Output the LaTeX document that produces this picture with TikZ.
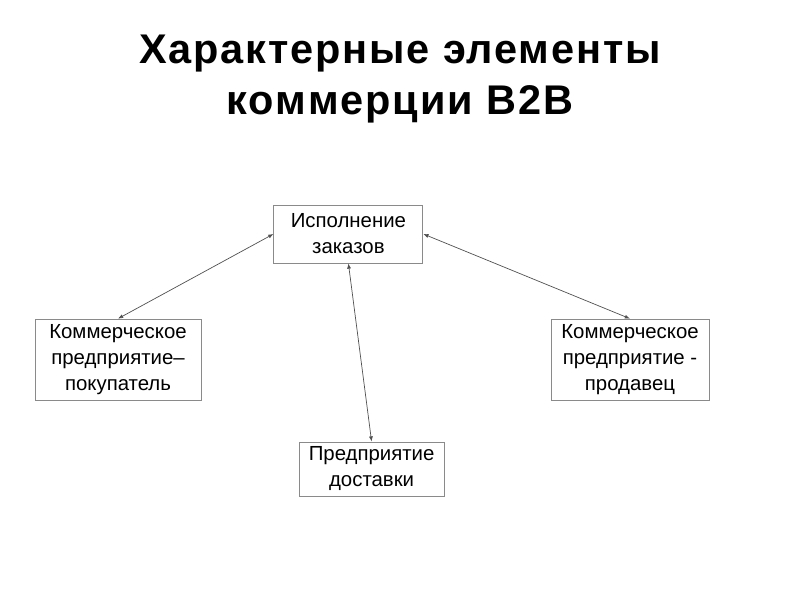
\documentclass[tikz,border=0pt]{standalone}
\usepackage{fontspec}
\setmainfont{Liberation Sans}
\newfontfamily\titlefont[LetterSpace=4.5]{Liberation Sans}
\usetikzlibrary{arrows.meta, positioning}
\definecolor{bframe}{HTML}{8A8A8A}
\definecolor{bline}{HTML}{505050}
\tikzset{
  >={Latex[length=1.3mm,width=1mm]},
  box/.style={
    draw=bframe, fill=white, line width=0.6pt, align=center, inner sep=3pt,
    font=\fontsize{14.5}{18.5}\selectfont
  },
  head/.style={anchor=base, font=\titlefont\fontsize{29.5}{36}\selectfont\bfseries},
  link/.style={<->, line width=0.5pt, draw=bline}
}

\begin{document}
\begin{tikzpicture}
  \useasboundingbox (0,0) rectangle (20,15);
  % title
  \node[head] (title1) at (10,13.4) {Характерные элементы};
  \node[head] (title2) at (10,12.125) {коммерции B2B};
  % boxes
  \node[box, minimum width=3.725cm, minimum height=1.45cm] (orders) at (8.71,9.15)
    {Исполнение\\заказов};
  \node[box, minimum width=4.15cm, minimum height=2.025cm] (buyer) at (2.95,6.01)
    {Коммерческое\\предприятие–\\покупатель};
  \node[box, minimum width=3.95cm, minimum height=2.025cm] (seller) at (15.75,6.01)
    {Коммерческое\\предприятие -\\продавец};
  \node[box, minimum width=3.625cm, minimum height=1.35cm] (delivery) at (9.29,3.275)
    {Предприятие\\доставки};
  % links
  \draw[link] (orders.west) -- (buyer.north);
  \draw[link] (orders.east) -- (seller.north);
  \draw[link] (orders.south) -- (delivery.north);
\end{tikzpicture}
\end{document}
